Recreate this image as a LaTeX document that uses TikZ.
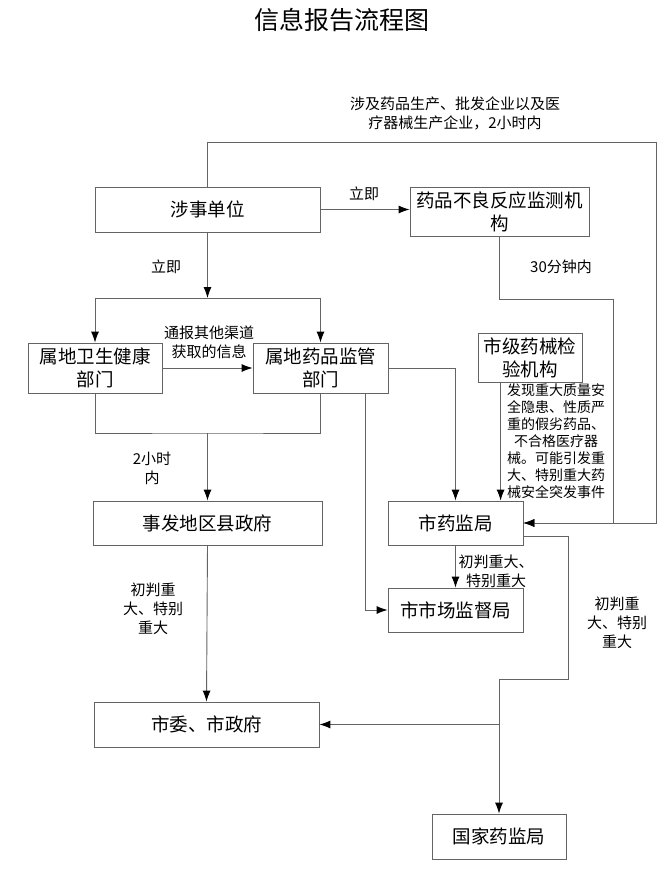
\documentclass[tikz,border=0pt]{standalone}
\usepackage{fontspec}
\setmainfont{Noto Sans CJK SC}
\usetikzlibrary{arrows.meta}
\definecolor{FlowGray}{RGB}{100,100,100}
\tikzset{
  box/.style={draw=FlowGray, line width=0.8pt, align=center, inner sep=0pt,
    font=\fontsize{18.5}{23}\selectfont},
  note/.style={align=center, inner sep=0pt, font=\fontsize{15}{19}\selectfont},
  flow/.style={draw=FlowGray, line width=0.9pt, -{Latex[length=11pt,width=8pt,color=black]}},
  plain/.style={draw=FlowGray, line width=0.9pt},
}

\begin{document}
\begin{tikzpicture}[x=1pt,y=-1pt]
    \useasboundingbox (0,0) rectangle (666,870);
    \node[font=\fontsize{25}{30}\selectfont] (title) at (342,20) {信息报告流程图};
    % boxes
    \node[box,minimum width=225pt,minimum height=45pt] (unit) at (207.5,209.5) {涉事单位};
    \node[box,minimum width=179pt,minimum height=49pt] (adr) at (499.5,211.5) {药品不良反应监测机\\构};
    \node[box,minimum width=134pt,minimum height=50pt] (health) at (95,368) {属地卫生健康\\部门};
    \node[box,minimum width=135pt,minimum height=50pt] (drug) at (320.5,368) {属地药品监管\\部门};
    \node[box,minimum width=104pt,minimum height=49pt] (lab) at (530,357.5) {市级药械检\\验机构};
    \node[box,minimum width=229pt,minimum height=44pt] (gov) at (207.5,523) {事发地区县政府};
    \node[box,minimum width=135pt,minimum height=44pt] (fda) at (455.5,523) {市药监局};
    \node[box,minimum width=135pt,minimum height=44pt] (market) at (455.5,610) {市市场监督局};
    \node[box,minimum width=225pt,minimum height=45pt] (city) at (206.5,724.5) {市委、市政府};
    \node[box,minimum width=134pt,minimum height=45pt] (nmpa) at (499,836.5) {国家药监局};
    % turning points
    \coordinate (topR) at (656,142);
    \coordinate (midR) at (613,299);
    \coordinate (split) at (207.5,298);
    \coordinate (join) at (207.5,433);
    \coordinate (natTurn) at (568,679);
    \coordinate (drugOut) at ([xshift=-23pt]drug.south east);
    \coordinate (labOut) at ([xshift=23pt]lab.south west);
    \coordinate (fdaOut) at ([yshift=9pt]fda.south east);
    % connectors
    \draw[flow] (unit.north) |- (topR) |- (fda.east);
    \draw[flow] (adr.south) |- (midR) |- (fda.east);
    \draw[flow] (unit.east) -- (unit.east -| adr.west);
    \draw[flow] (unit.south) -- (split);
    \draw[flow] (split) -| (health.north);
    \draw[flow] (split) -| (drug.north);
    \draw[flow] (health.east) -- (health.east -| drug.west);
    \draw[plain] (health.south) |- (join) -| (drug.south);
    \draw[flow] (join) -- (gov.north);
    \draw[flow] (gov.south) -- (city.north);
    \draw[flow] (drug.east) -| (fda.north);
    \draw[flow] (drugOut) |- (market.west);
    \draw[flow] (labOut) -- (labOut |- fda.north);
    \draw[flow] (fda.south) -- (market.north);
    \draw[flow] (fdaOut) -| (natTurn) -| (nmpa.north);
    \coordinate (branch) at (nmpa.north |- city.east);
    \draw[flow] (branch) -- (city.east);
    % labels
    \node[note] (topNote) at (455,113) {涉及药品生产、批发企业以及医\\疗器械生产企业，2小时内};
    \node[note] (nowR) at (364,194) {立即};
    \node[note] (nowD) at (166,267) {立即};
    \node[note] (halfHour) at (561,267) {30分钟内};
    \node[note] (notify) at (209,342) {通报其他渠道\\获取的信息};
    \node[note] (twoHours) at (152,468) {2小时\\内};
    \node[note] (judgeL) at (153,609) {初判重\\大、特别\\重大};
    \node[note,font=\fontsize{14}{17}\selectfont] (found) at (556,441)
      {发现重大质量安\\全隐患、性质严\\重的假劣药品、\\不合格医疗器\\械。可能引发重\\大、特别重大药\\械安全突发事件};
    \node[note] (judgeM) at (496,571) {初判重大、\\特别重大};
    \node[note] (judgeR) at (617,623) {初判重\\大、特别\\重大};
\end{tikzpicture}
\end{document}
